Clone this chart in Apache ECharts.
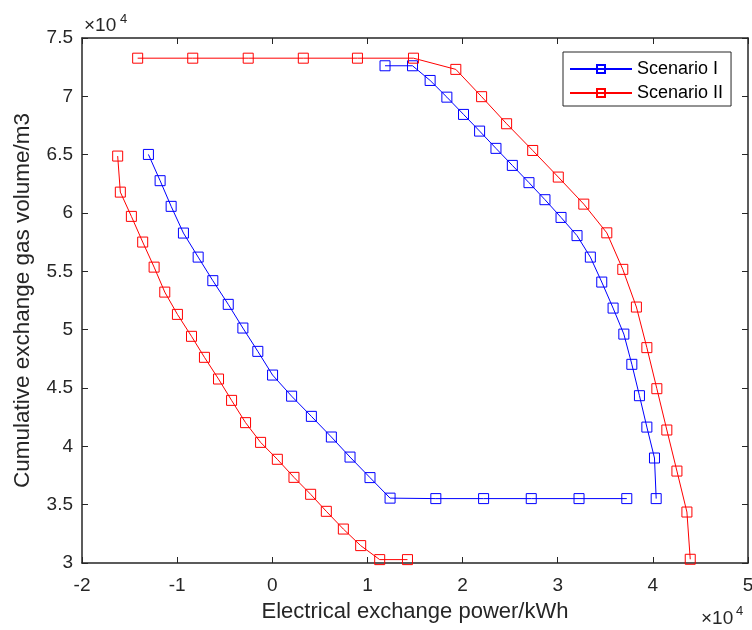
<!DOCTYPE html>
<html>
<head>
<meta charset="utf-8">
<script src="https://cdn.jsdelivr.net/npm/echarts@6/dist/echarts.min.js"></script>
<style>
  html, body { margin: 0; padding: 0; background: #fff; }
  #chart { width: 752px; height: 630px; }
</style>
</head>
<body>
<div id="chart"></div>
<script>
// all values in units of 1e4 (axis shows x10^4)
const seriesNames = ['Scenario I', 'Scenario II']

// Scenario I, right branch (top -> bottom)
const s1RightX = [1.185, 1.474, 1.659, 1.835, 2.01, 2.179, 2.351, 2.523, 2.698, 2.866, 3.035,
  3.203, 3.343, 3.463, 3.582, 3.695, 3.779, 3.859, 3.937, 4.017, 4.035]
const s1RightY = [7.262, 7.262, 7.136, 6.993, 6.845, 6.702, 6.554, 6.408, 6.26, 6.114, 5.962,
  5.806, 5.622, 5.408, 5.185, 4.962, 4.703, 4.434, 4.165, 3.9, 3.552]
// Scenario I, left branch + bottom flat part
const s1LeftX = [-1.302, -1.179, -1.063, -0.934, -0.779, -0.625, -0.463, -0.309, -0.152, 0.003,
  0.203, 0.411, 0.621, 0.817, 1.027, 1.238, 1.719, 2.221, 2.722, 3.224, 3.726]
const s1LeftY = [6.502, 6.277, 6.057, 5.828, 5.622, 5.42, 5.217, 5.014, 4.814, 4.611,
  4.43, 4.257, 4.08, 3.908, 3.732, 3.556, 3.552, 3.552, 3.552, 3.552, 3.552]

// Scenario II, top flat part + right branch
const s2RightX = [-1.415, -0.836, -0.253, 0.326, 0.895, 1.484, 1.929, 2.2, 2.463, 2.737, 3.006,
  3.274, 3.516, 3.684, 3.827, 3.937, 4.042, 4.147, 4.253, 4.358, 4.393]
const s2RightY = [7.327, 7.327, 7.327, 7.327, 7.327, 7.327, 7.231, 6.997, 6.765, 6.536, 6.308,
  6.076, 5.83, 5.517, 5.194, 4.846, 4.494, 4.14, 3.788, 3.437, 3.032]
// Scenario II, left branch
const s2LeftX = [-1.625, -1.597, -1.481, -1.362, -1.242, -1.13, -0.997, -0.849, -0.713, -0.565,
  -0.428, -0.281, -0.123, 0.053, 0.228, 0.403, 0.568, 0.747, 0.929, 1.129, 1.421]
const s2LeftY = [6.488, 6.179, 5.971, 5.751, 5.536, 5.322, 5.131, 4.943, 4.763, 4.577,
  4.394, 4.203, 4.034, 3.889, 3.734, 3.589, 3.443, 3.291, 3.149, 3.029, 3.029]

const seriesColors = ['#0000ff', '#ff0000']

// x/y arrays -> [x,y] pairs, the two branches separated by an empty point
function joinBranches(x1, y1, x2, y2) {
  const a = x1.map((v, i) => [v, y1[i]])
  const b = x2.map((v, i) => [v, y2[i]])
  return a.concat([['-', '-']], b)
}

const axisColor = '#262626'
const fontFamily = '"Liberation Sans", Arial, Helvetica, sans-serif'

function makeSeries(idx, data) {
  return {
    name: seriesNames[idx],
    type: 'line',
    data: data,
    symbol: 'rect',
    symbolSize: 10,
    showAllSymbol: true,
    connectNulls: false,
    lineStyle: { color: seriesColors[idx], width: 1 },
    itemStyle: { color: 'rgba(0,0,0,0)', borderColor: seriesColors[idx], borderWidth: 1 },
    emphasis: { disabled: true },
    z: 3
  }
}

// common axis look (MATLAB-like box with inner ticks)
function axisBase(extra) {
  return Object.assign({
    type: 'value',
    axisLine: { show: true, onZero: false, lineStyle: { color: axisColor, width: 1.5 } },
    axisTick: { show: true, inside: true, length: 6, lineStyle: { color: axisColor, width: 1 } },
    splitLine: { show: false }
  }, extra)
}

let chart = echarts.init(document.getElementById('chart'), null, { renderer: 'canvas' })
chart.setOption({
  animation: false,
  backgroundColor: '#fff',
  textStyle: { fontFamily: fontFamily },
  grid: { left: 82, right: 4, top: 38, bottom: 67, containLabel: false, outerBoundsMode: 'none' },
  legend: {
    data: seriesNames,
    orient: 'vertical',
    left: 563,
    top: 52,
    itemWidth: 62,
    itemHeight: 10,
    itemGap: 6,
    padding: [8, 8, 4, 6],
    borderColor: axisColor,
    borderWidth: 1,
    backgroundColor: '#fff',
    textStyle: { fontSize: 18, color: '#000', fontFamily: fontFamily }
  },
  xAxis: [
    axisBase({
      min: -2, max: 5, interval: 1, position: 'bottom',
      name: 'Electrical exchange power/kWh',
      nameLocation: 'middle',
      nameGap: 38,
      nameTextStyle: { fontSize: 22, color: axisColor, fontFamily: fontFamily },
      axisLabel: { fontSize: 19, color: axisColor, margin: 13, fontFamily: fontFamily }
    }),
    axisBase({
      min: -2, max: 5, interval: 1, position: 'top',
      axisLabel: { show: false }
    })
  ],
  yAxis: [
    axisBase({
      min: 3, max: 7.5, interval: 0.5, position: 'left',
      name: 'Cumulative exchange gas volume/m3',
      nameLocation: 'middle',
      nameGap: 48,
      nameTextStyle: { fontSize: 22.5, color: axisColor, fontFamily: fontFamily },
      axisLabel: { fontSize: 19, color: axisColor, margin: 9, fontFamily: fontFamily }
    }),
    axisBase({
      min: 3, max: 7.5, interval: 0.5, position: 'right',
      axisLabel: { show: false }
    })
  ],
  //坐标轴的 ×10^4 标注
  graphic: [
    { type: 'text', x: 84, y: 26, style: { text: '×10', fontSize: 19, fill: axisColor, fontFamily: fontFamily, verticalAlign: 'middle' } },
    { type: 'text', x: 120, y: 19, style: { text: '4', fontSize: 13, fill: axisColor, fontFamily: fontFamily, verticalAlign: 'middle' } },
    { type: 'text', x: 701, y: 619, style: { text: '×10', fontSize: 19, fill: axisColor, fontFamily: fontFamily, verticalAlign: 'middle' } },
    { type: 'text', x: 736, y: 611, style: { text: '4', fontSize: 13, fill: axisColor, fontFamily: fontFamily, verticalAlign: 'middle' } }
  ],
  series: [
    makeSeries(0, joinBranches(s1RightX, s1RightY, s1LeftX, s1LeftY)),
    makeSeries(1, joinBranches(s2RightX, s2RightY, s2LeftX, s2LeftY))
  ]
})
</script>
</body>
</html>
